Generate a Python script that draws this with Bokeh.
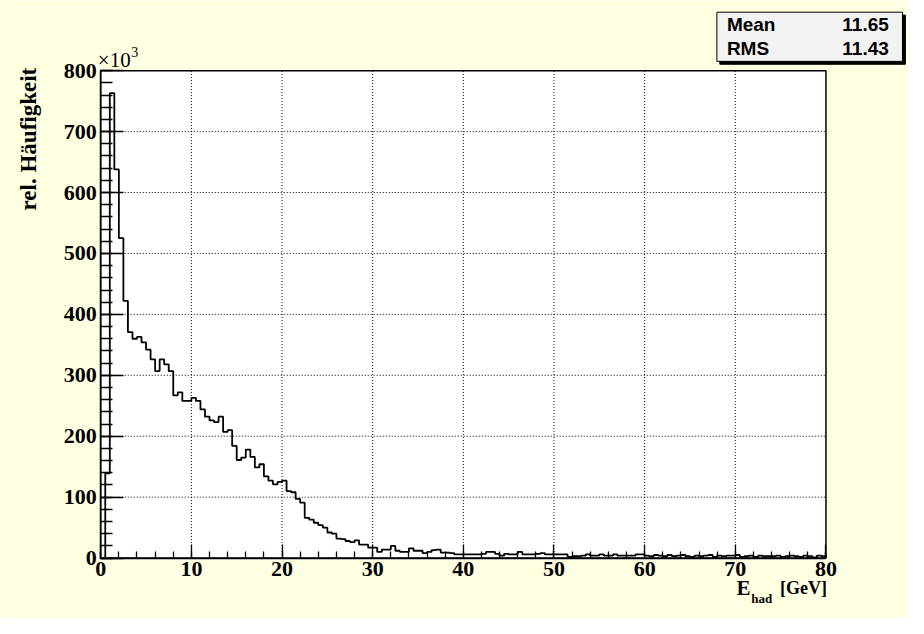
import numpy as np
from bokeh.plotting import figure
from bokeh.models import Label, FixedTicker, Range1d
from bokeh.embed import file_html
from bokeh.resources import INLINE

# ---------------- data ----------------
x_lo, x_hi, n_bins = 0.0, 80.0, 160
# bin contents in units of 10^3, bins of 0.5 GeV from 0 to 80 GeV
counts_k = [
    0, 139, 763, 638, 525, 422, 371, 360, 363, 354,
    342, 326, 307, 326, 318, 307, 267, 272, 258, 258,
    263, 258, 244, 232, 226, 223, 232, 207, 210, 184,
    161, 165, 178, 166, 149, 154, 134, 127, 121, 125,
    127, 110, 108, 97, 91, 66, 63, 58, 54, 50,
    42, 40, 32, 31, 28, 26, 29, 22, 22, 17,
    17, 10, 14, 14, 20, 12, 10, 10, 16, 12,
    12, 8, 10, 13, 14, 9, 9, 8, 6, 6,
    6, 6, 6, 6, 7, 10, 10, 7, 4, 7,
    6, 6, 10, 6, 6, 6, 7, 8, 6, 6,
    6, 6, 6, 2, 3, 3, 4, 6, 4, 4,
    6, 4, 4, 6, 4, 4, 4, 4, 6, 6,
    4, 3, 5, 4, 3, 5, 3, 4, 5, 3,
    2, 4, 3, 4, 5, 2, 4, 3, 4, 4,
    5, 2, 3, 4, 2, 4, 3, 3, 3, 4,
    2, 3, 4, 3, 2, 4, 3, 1, 4, 3,
]
x_major = [0, 10, 20, 30, 40, 50, 60, 70, 80]
x_minor_step = 2
y_major = [0, 100, 200, 300, 400, 500, 600, 700, 800]
y_minor_step = 20
stat_names = "Mean\nRMS"
stat_values = "11.65\n11.43"
y_title = "rel. Häufigkeit"
x_title_main, x_title_sub, x_title_unit = "E", "had", "[GeV]"
exp_base, exp_power = "×10", "3"

# ---------------- layout ----------------
W, H = 908, 618
SX, SY = W / 924.0, H / 634.0                  # reference px -> figure px
PL, PT, PR, PB = 102 * SX, 72 * SY, 840 * SX, 572 * SY   # plot area (figure px)
y_lo, y_hi = y_major[0], y_major[-1]
kx = (PR - PL) / (x_hi - x_lo)
ky = (PB - PT) / (y_hi - y_lo)

def X(rx):  # reference x px -> data x
    return x_lo + (rx * SX - PL) / kx
def Y(ry):  # reference y px -> data y
    return y_lo + (PB - ry * SY) / ky

BG = "#FFFFE2"
SERIF = "Liberation Serif"
SANS = "Liberation Sans"

p = figure(
    frame_width=W, frame_height=H, min_border=0, title=None,
    x_range=Range1d(x_lo - PL / kx, x_hi + (W - PR) / kx),
    y_range=Range1d(y_lo - (H - PB) / ky, y_hi + PT / ky),
    output_backend="svg", toolbar_location=None,
    background_fill_color=BG, border_fill_color=BG, outline_line_color=None,
)
p.grid.visible = False

# plot area (white, black frame)
p.quad(left=[x_lo], right=[x_hi], bottom=[y_lo], top=[y_hi],
       fill_color="white", line_color="black", line_width=1.5)

# dotted grid at major ticks
gx = x_major[1:-1]
gy = y_major[1:-1]
p.segment(x0=gx, y0=[y_lo] * len(gx), x1=gx, y1=[y_hi] * len(gx),
          line_color="black", line_dash="1 2", line_width=1)
p.segment(x0=[x_lo] * len(gy), y0=gy, x1=[x_hi] * len(gy), y1=gy,
          line_color="black", line_dash="1 2", line_width=1)

# histogram outline
edges = np.linspace(x_lo, x_hi, n_bins + 1)
xs = np.repeat(edges, 2)
ys = np.concatenate([[0], np.repeat(np.array(counts_k, dtype=float), 2), [0]])
p.line(xs, ys, line_color="black", line_width=1.8)

# axes fixed at the plot-area edges
p.xaxis.fixed_location = y_lo
p.yaxis.fixed_location = x_lo
p.xaxis.bounds = (x_lo, x_hi)
p.yaxis.bounds = (y_lo, y_hi)
p.xaxis.ticker = FixedTicker(ticks=x_major, minor_ticks=list(range(int(x_lo), int(x_hi) + 1, x_minor_step)))
p.yaxis.ticker = FixedTicker(ticks=y_major, minor_ticks=list(range(y_lo, y_hi + 1, y_minor_step)))
for ax in (p.xaxis, p.yaxis):
    ax.axis_line_color = "black"
    ax.axis_line_width = 1.5
    ax.major_tick_line_color = "black"
    ax.minor_tick_line_color = "black"
    ax.major_tick_line_width = 1.3
    ax.minor_tick_line_width = 1.3
    ax.major_tick_out = 0
    ax.minor_tick_out = 0
    ax.major_label_text_font = SERIF
    ax.major_label_text_font_style = "bold"
    ax.major_label_text_font_size = "22px"
    ax.major_label_text_color = "black"
    ax.major_label_standoff = 4
p.xaxis.major_tick_in = 14
p.xaxis.minor_tick_in = 7
p.yaxis.major_tick_in = 23
p.yaxis.minor_tick_in = 12

def lab(**kw):
    base = dict(text_color="black")
    base.update(kw)
    p.add_layout(Label(**base))

# y title (rotated, aligned to top of plot area)
lab(x=X(28), y=Y(69), text=y_title, angle=np.pi / 2,
    text_align="right", text_baseline="middle",
    text_font=SERIF, text_font_style="bold", text_font_size="23px")

# x title with subscript
lab(x=X(749), y=Y(603), text=x_title_main, text_align="left", text_baseline="middle",
    text_font=SERIF, text_font_style="bold", text_font_size="21px")
lab(x=X(764), y=Y(613), text=x_title_sub, text_align="left", text_baseline="middle",
    text_font=SERIF, text_font_style="bold", text_font_size="13px")
lab(x=X(841), y=Y(603), text=x_title_unit, text_align="right", text_baseline="middle",
    text_font=SERIF, text_font_style="bold", text_font_size="18px")

# exponent x10^3
lab(x=X(99), y=Y(61), text=exp_base, text_align="left", text_baseline="middle",
    text_font=SERIF, text_font_size="21px")
lab(x=X(133), y=Y(53), text=exp_power, text_align="left", text_baseline="middle",
    text_font=SERIF, text_font_size="14px")

# stats box: shadow, box, values
box_l, box_t = 729, 12
pad = dict(left=10, right=127, top=2, bottom=2)
lab(x=X(box_l + 3), y=Y(box_t + 3), text=stat_names, anchor="top_left",
    text_font=SANS, text_font_style="bold", text_font_size="19px", text_line_height=1.15,
    background_fill_color="black", border_line_color="black", padding=pad)
lab(x=X(box_l), y=Y(box_t), text=stat_names, anchor="top_left",
    text_font=SANS, text_font_style="bold", text_font_size="19px", text_line_height=1.15,
    background_fill_color="#F2F2F2", border_line_color="black", border_line_width=1,
    padding=pad)
lab(x=X(904), y=Y(box_t + 2), text=stat_values, anchor="top_right", text_align="right",
    text_font=SANS, text_font_style="bold", text_font_size="19px", text_line_height=1.15)

open("out.html", "w").write(file_html(p, INLINE))
